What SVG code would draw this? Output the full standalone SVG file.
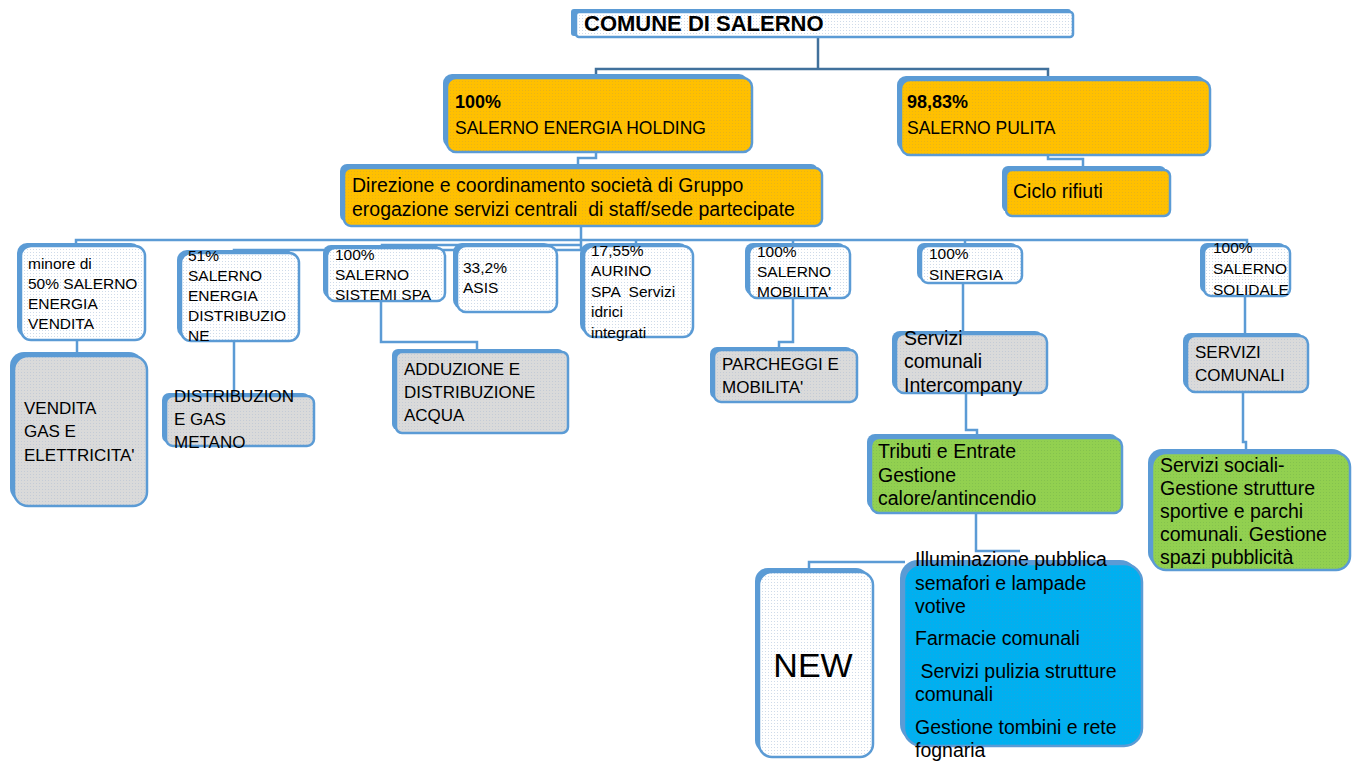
<svg xmlns="http://www.w3.org/2000/svg" width="1362" height="765" viewBox="0 0 1362 765">
<defs>
<pattern id="pw" width="3" height="3" patternUnits="userSpaceOnUse"><rect width="3" height="3" fill="#ffffff"/><rect width="1" height="1" fill="#cfdbea"/></pattern>
<pattern id="po" width="3" height="3" patternUnits="userSpaceOnUse"><rect width="3" height="3" fill="#ffc000"/><rect width="1" height="1" fill="#e9b418"/></pattern>
<pattern id="pg" width="3" height="3" patternUnits="userSpaceOnUse"><rect width="3" height="3" fill="#dadada"/><rect width="1" height="1" fill="#c4cbd6"/></pattern>
<pattern id="pn" width="3" height="3" patternUnits="userSpaceOnUse"><rect width="3" height="3" fill="#92d050"/><rect width="1" height="1" fill="#84c24e"/></pattern>
<pattern id="pb" width="3" height="3" patternUnits="userSpaceOnUse"><rect width="3" height="3" fill="#00b0f0"/><rect width="1" height="1" fill="#14a8e6"/></pattern>
</defs>
<style>
.sh{fill:#5b9bd5}
.bx{stroke:#5b9bd5;stroke-width:2.5}
.w{fill:url(#pw)} .o{fill:url(#po)} .g{fill:url(#pg)} .n{fill:url(#pn)} .b{fill:url(#pb)}
text{font-family:"Liberation Sans",Arial,sans-serif;fill:#000;white-space:pre}
.s{font-size:15.5px}
.c{font-size:17px}
.m{font-size:19.5px}
.h{font-size:17.5px}
.bd{font-weight:bold;font-size:18px}
.cn{fill:none;stroke:#5b9bd5;stroke-width:2.5}
.cd{fill:none;stroke:#41719c;stroke-width:2.5}
</style>

<g id="connectors">
<polyline class="cd" points="818,37 818,69"/>
<polyline class="cd" points="596,78 596,69 1048,69 1048,80"/>
<polyline class="cn" points="596,152 596,158 578,158 578,168"/>
<polyline class="cn" points="1048,155 1048,159 1083,159 1083,170"/>
<polyline class="cn" points="581,226 581,250"/>
<polyline class="cn" points="76,246 76,240 1247,240 1247,246"/>
<polyline class="cn" points="234,253 234,250 581,250"/>
<polyline class="cn" points="382,248 382,245 581,245"/>
<polyline class="cn" points="502,245 502,247"/>
<polyline class="cn" points="636,240 636,246"/>
<polyline class="cn" points="793,240 793,246"/>
<polyline class="cn" points="965,240 965,246"/>
<polyline class="cn" points="77,340 77,356"/>
<polyline class="cn" points="234,341 234,396"/>
<polyline class="cn" points="381,301 381,342 477,342 477,352"/>
<polyline class="cn" points="793,298 793,342 779,342 779,350"/>
<polyline class="cn" points="963,283 963,334"/>
<polyline class="cn" points="966,393 966,430 977,430 977,438"/>
<polyline class="cn" points="976,513 976,551 1020,551"/>
<polyline class="cn" points="809,572 809,562 905,562"/>
<polyline class="cn" points="1245,296 1245,336"/>
<polyline class="cn" points="1243,392 1243,442 1246,442 1246,453"/>
</g>

<g id="comune">
<rect class="sh" x="571" y="9" width="500" height="27" rx="3"/>
<rect class="bx w" x="576" y="12" width="497" height="25" rx="3"/>
<text x="584" y="31" style="font-weight:bold;font-size:22px">COMUNE DI SALERNO</text>
</g>

<g id="holding">
<rect class="sh" x="443" y="74" width="305" height="74" rx="9"/>
<rect class="bx o" x="447" y="78" width="305" height="74" rx="9"/>
<text x="455" y="108" class="bd">100%</text>
<text x="455" y="134" class="h">SALERNO ENERGIA HOLDING</text>
</g>

<g id="pulita">
<rect class="sh" x="897" y="76" width="309" height="75" rx="9"/>
<rect class="bx o" x="901" y="80" width="309" height="75" rx="9"/>
<text x="907" y="108" class="bd">98,83%</text>
<text x="907" y="134" class="h">SALERNO PULITA</text>
</g>

<g id="direzione">
<rect class="sh" x="340" y="164" width="478" height="58" rx="7"/>
<rect class="bx o" x="344" y="168" width="478" height="58" rx="7"/>
<text x="352" y="192" class="m">Direzione e coordinamento società di Gruppo</text>
<text x="352" y="216" class="m">erogazione servizi centrali  di staff/sede partecipate</text>
</g>

<g id="ciclo">
<rect class="sh" x="1002" y="166" width="164" height="46" rx="6"/>
<rect class="bx o" x="1006" y="170" width="164" height="46" rx="6"/>
<text x="1013" y="198" class="m">Ciclo rifiuti</text>
</g>

<g id="minore">
<rect class="sh" x="17" y="243" width="124" height="94" rx="10"/>
<rect class="bx w" x="21" y="246" width="124" height="94" rx="10"/>
<text class="s" x="28" y="269">minore di</text>
<text class="s" x="28" y="289">50% SALERNO</text>
<text class="s" x="28" y="309">ENERGIA</text>
<text class="s" x="28" y="329">VENDITA</text>
</g>

<g id="distribuzione51">
<rect class="sh" x="177" y="250" width="118" height="88" rx="10"/>
<rect class="bx w" x="181" y="253" width="118" height="88" rx="10"/>
<text class="s" x="188" y="261">51%</text>
<text class="s" x="188" y="281">SALERNO</text>
<text class="s" x="188" y="301">ENERGIA</text>
<text class="s" x="188" y="321">DISTRIBUZIO</text>
<text class="s" x="188" y="341">NE</text>
</g>

<g id="sistemi">
<rect class="sh" x="323" y="245" width="118" height="53" rx="8"/>
<rect class="bx w" x="327" y="248" width="118" height="53" rx="8"/>
<text class="s" x="335" y="260">100%</text>
<text class="s" x="335" y="280">SALERNO</text>
<text class="s" x="335" y="300">SISTEMI SPA</text>
</g>

<g id="asis">
<rect class="sh" x="453" y="243" width="100" height="66" rx="9"/>
<rect class="bx w" x="457" y="246" width="100" height="66" rx="9"/>
<text class="s" x="463" y="273">33,2%</text>
<text class="s" x="463" y="293">ASIS</text>
</g>

<g id="aurino">
<rect class="sh" x="580" y="243" width="109" height="91" rx="10"/>
<rect class="bx w" x="584" y="246" width="109" height="91" rx="10"/>
<text class="s" x="591" y="256">17,55%</text>
<text class="s" x="591" y="276">AURINO</text>
<text class="s" x="591" y="297">SPA  Servizi</text>
<text class="s" x="591" y="317">idrici</text>
<text class="s" x="591" y="338">integrati</text>
</g>

<g id="mobilita">
<rect class="sh" x="745" y="243" width="101" height="52" rx="8"/>
<rect class="bx w" x="749" y="246" width="101" height="52" rx="8"/>
<text class="s" x="757" y="257">100%</text>
<text class="s" x="757" y="277">SALERNO</text>
<text class="s" x="757" y="297">MOBILITA'</text>
</g>

<g id="sinergia">
<rect class="sh" x="917" y="243" width="101" height="37" rx="7"/>
<rect class="bx w" x="921" y="246" width="101" height="37" rx="7"/>
<text class="s" x="929" y="259">100%</text>
<text class="s" x="929" y="280">SINERGIA</text>
</g>

<g id="solidale">
<rect class="sh" x="1200" y="243" width="86" height="50" rx="7"/>
<rect class="bx w" x="1204" y="246" width="86" height="50" rx="7"/>
<text class="s" x="1213" y="253">100%</text>
<text class="s" x="1213" y="274">SALERNO</text>
<text class="s" x="1213" y="295">SOLIDALE</text>
</g>

<g id="vendita">
<rect class="sh" x="10" y="352" width="133" height="150" rx="14"/>
<rect class="bx g" x="14" y="356" width="133" height="150" rx="14"/>
<text class="c" x="24" y="414">VENDITA</text>
<text class="c" x="24" y="437">GAS E</text>
<text class="c" x="24" y="461">ELETTRICITA'</text>
</g>

<g id="distribuzionegas">
<rect class="sh" x="162" y="393" width="148" height="50" rx="7"/>
<rect class="bx g" x="166" y="396" width="148" height="50" rx="7"/>
<text class="c" x="174" y="402">DISTRIBUZION</text>
<text class="c" x="174" y="425">E GAS</text>
<text class="c" x="174" y="448">METANO</text>
</g>

<g id="adduzione">
<rect class="sh" x="392" y="349" width="172" height="81" rx="6"/>
<rect class="bx g" x="396" y="352" width="172" height="81" rx="6"/>
<text class="c" x="404" y="375">ADDUZIONE E</text>
<text class="c" x="404" y="398">DISTRIBUZIONE</text>
<text class="c" x="404" y="421">ACQUA</text>
</g>

<g id="parcheggi">
<rect class="sh" x="710" y="347" width="143" height="52" rx="7"/>
<rect class="bx g" x="714" y="350" width="143" height="52" rx="7"/>
<text class="c" x="722" y="370">PARCHEGGI E</text>
<text class="c" x="722" y="393">MOBILITA'</text>
</g>

<g id="intercompany">
<rect class="sh" x="892" y="331" width="151" height="59" rx="8"/>
<rect class="bx g" x="896" y="334" width="151" height="59" rx="8"/>
<text class="m" x="904" y="345">Servizi</text>
<text class="m" x="904" y="368">comunali</text>
<text class="m" x="904" y="392">Intercompany</text>
</g>

<g id="servizicomunali">
<rect class="sh" x="1183" y="333" width="121" height="56" rx="8"/>
<rect class="bx g" x="1187" y="336" width="121" height="56" rx="8"/>
<text class="c" x="1195" y="358">SERVIZI</text>
<text class="c" x="1195" y="381">COMUNALI</text>
</g>

<g id="tributi">
<rect class="sh" x="867" y="434" width="251" height="75" rx="8"/>
<rect class="bx n" x="871" y="438" width="251" height="75" rx="8"/>
<text class="m" x="878" y="458">Tributi e Entrate</text>
<text class="m" x="878" y="482">Gestione</text>
<text class="m" x="878" y="505">calore/antincendio</text>
</g>

<g id="sociali">
<rect class="sh" x="1148" y="449" width="198" height="117" rx="14"/>
<rect class="bx n" x="1152" y="453" width="198" height="117" rx="14"/>
<text class="m" x="1160" y="472">Servizi sociali-</text>
<text class="m" x="1160" y="495">Gestione strutture</text>
<text class="m" x="1160" y="518">sportive e parchi</text>
<text class="m" x="1160" y="541">comunali. Gestione</text>
<text class="m" x="1160" y="564">spazi pubblicità</text>
</g>

<g id="new">
<rect class="sh" x="755" y="568" width="114" height="185" rx="13"/>
<rect class="bx w" x="759" y="572" width="114" height="185" rx="13"/>
<text x="813" y="677" text-anchor="middle" style="font-size:34px">NEW</text>
</g>

<g id="servizivari">
<rect class="sh" x="900" y="560" width="238" height="182" rx="18"/>
<rect class="bx b" x="904" y="564" width="238" height="182" rx="18"/>
<text class="m" x="915" y="566">Illuminazione pubblica</text>
<text class="m" x="915" y="590">semafori e lampade</text>
<text class="m" x="915" y="613">votive</text>
<text class="m" x="915" y="645">Farmacie comunali</text>
<text class="m" x="915" y="678"> Servizi pulizia strutture</text>
<text class="m" x="915" y="701">comunali</text>
<text class="m" x="915" y="734">Gestione tombini e rete</text>
<text class="m" x="915" y="757">fognaria</text>
</g>
</svg>
